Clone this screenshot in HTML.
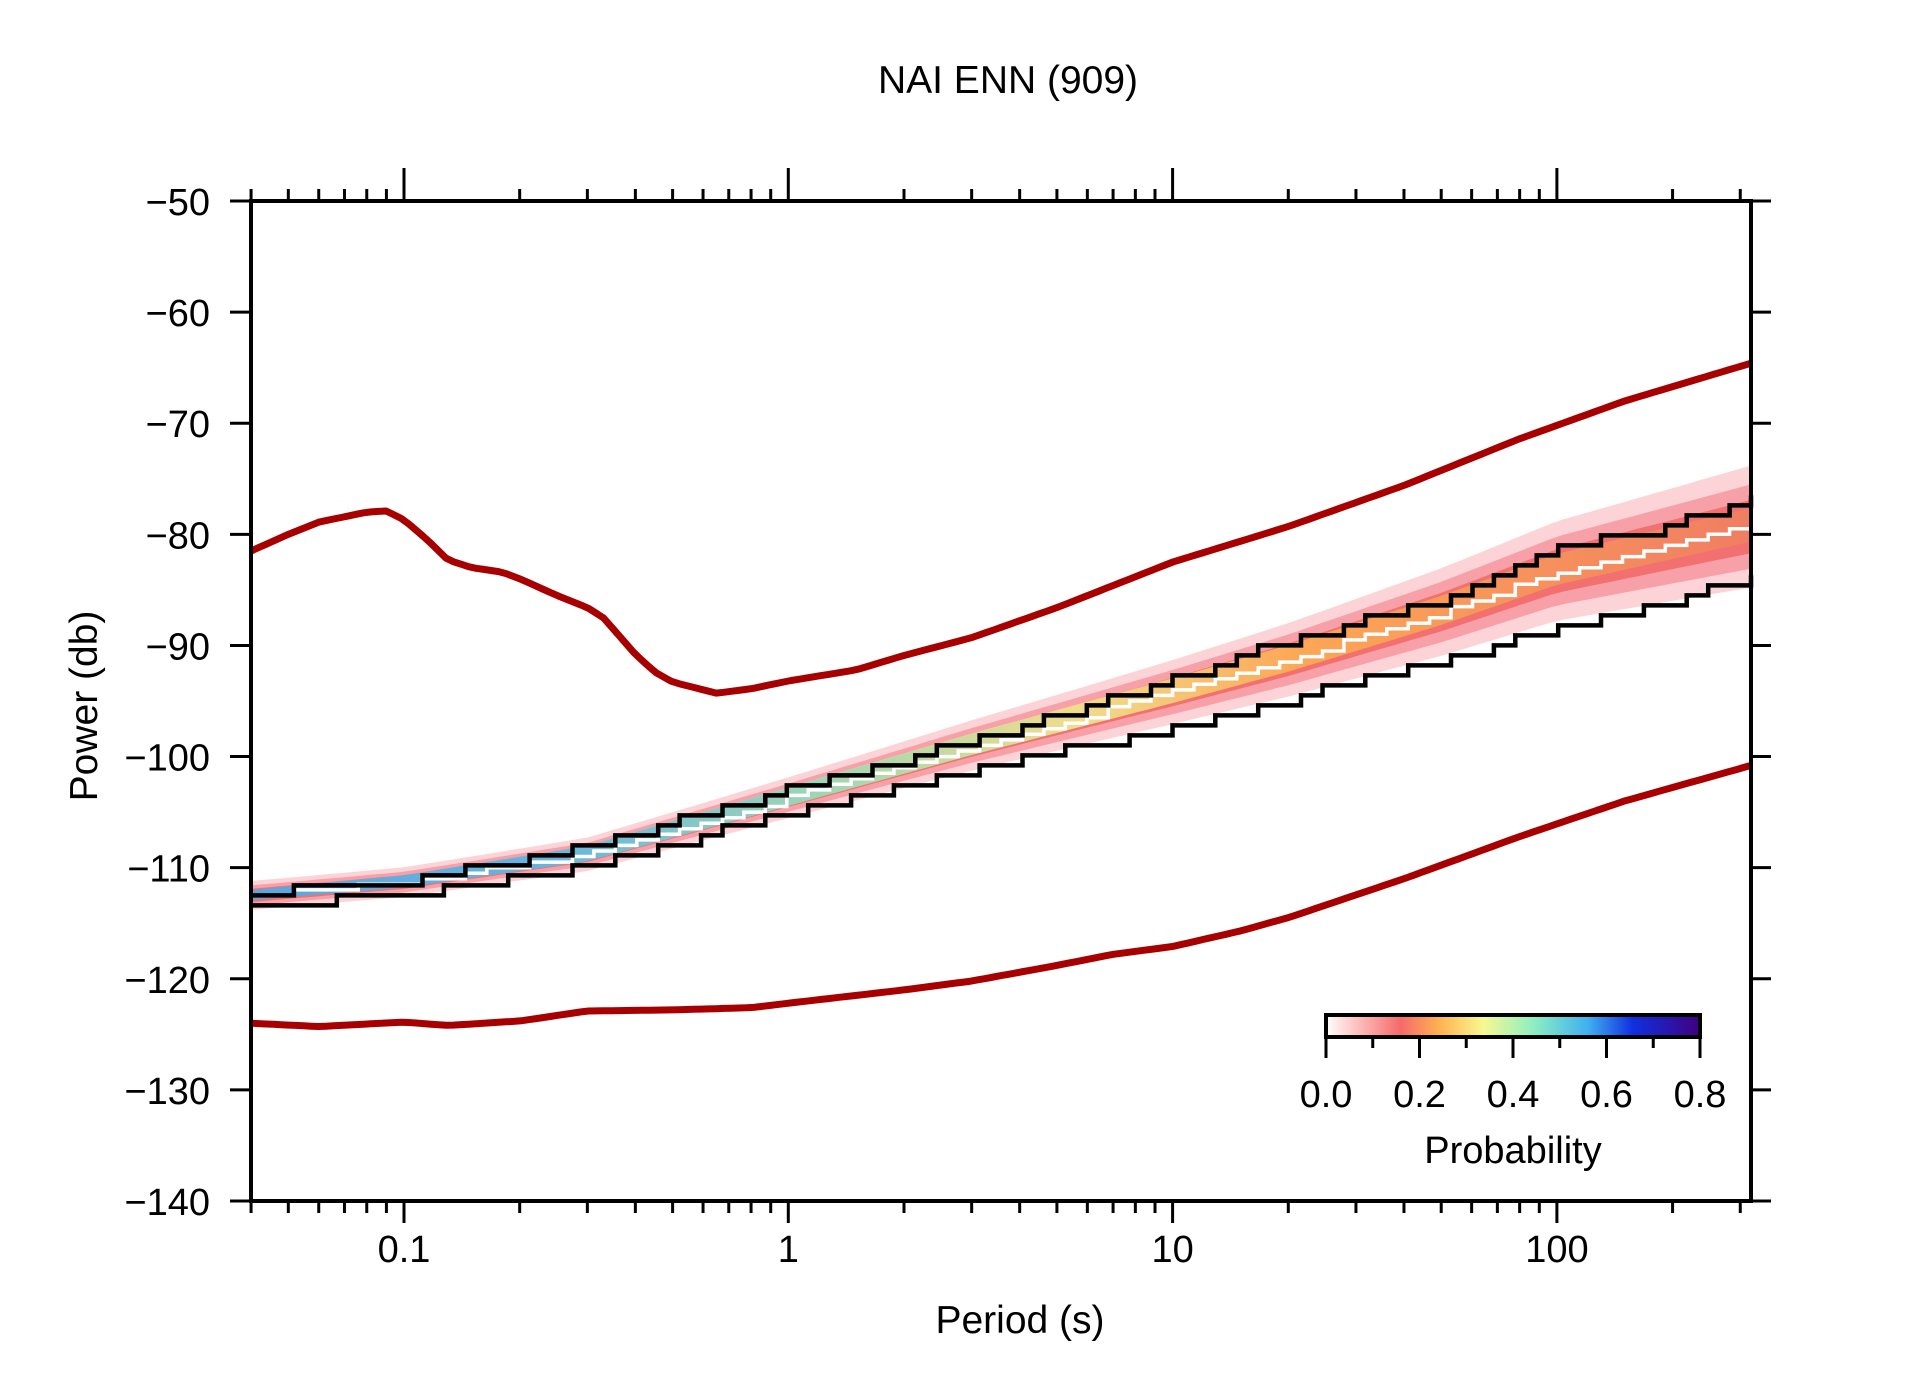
<!DOCTYPE html>
<html><head><meta charset="utf-8"><style>
html,body{margin:0;padding:0;background:#fff;overflow:hidden;}
svg{display:block;font-family:"Liberation Sans",sans-serif;}
</style></head><body>
<svg id="s" width="1910" height="1389" viewBox="0 0 1910 1389" xmlns="http://www.w3.org/2000/svg">
<defs>
<linearGradient id="cb" x1="0" x2="1" y1="0" y2="0">
<stop offset="0" stop-color="#ffffff"/><stop offset="0.05" stop-color="#ffd8d8"/>
<stop offset="0.2" stop-color="#f56a6a"/><stop offset="0.3" stop-color="#ffb050"/>
<stop offset="0.42" stop-color="#f8f890"/><stop offset="0.55" stop-color="#90f0c0"/>
<stop offset="0.7" stop-color="#40b0f0"/><stop offset="0.82" stop-color="#1030e0"/>
<stop offset="1" stop-color="#400080"/></linearGradient>
<linearGradient id="core" x1="251" x2="1751" y1="0" y2="0" gradientUnits="userSpaceOnUse">
<stop offset="0" stop-color="#40b0f0"/><stop offset="0.2" stop-color="#50c0f0"/>
<stop offset="0.38" stop-color="#90e8c0"/><stop offset="0.55" stop-color="#f0f090"/>
<stop offset="0.7" stop-color="#ffb050"/><stop offset="1" stop-color="#f08060"/></linearGradient>
</defs>
<g id="g"></g>
</svg>
<script>
const L=251,R=1751,T=201,B=1201;
function X(p){return 404+(Math.log10(p)+1)*384.3;}
function Y(d){return T+(-50-d)*11.111;}
const g=document.getElementById('g');let h='';
function interp(pts,p){const lp=Math.log10(p);for(let i=0;i<pts.length-1;i++){const a=Math.log10(pts[i][0]),b=Math.log10(pts[i+1][0]);if(lp<=b){const t=(lp-a)/(b-a);return pts[i][1]+t*(pts[i+1][1]-pts[i][1]);}}return pts[pts.length-1][1];}
function path(pts){return pts.map((q,i)=>(i?'L':'M')+X(q[0]).toFixed(1)+','+Y(q[1]).toFixed(1)).join('');}
const P0=0.04,P1=320;
function samp(pts,n){const o=[];for(let i=0;i<=n;i++){const p=Math.pow(10,Math.log10(P0)+i/n*(Math.log10(P1)-Math.log10(P0)));o.push([p,interp(pts,p)]);}return o;}
const mode=[[0.04,-112.5],[0.1,-111.3],[0.3,-108.8],[1,-103.7],[3,-99],[10,-94.2],[20,-91.3],[50,-87],[100,-83.3],[320,-79.3]];
function band(w0,w1,col){const top=[],bot=[];const s=samp(mode,120);s.forEach(q=>{const f=(Math.log10(q[0])-Math.log10(P0))/(Math.log10(P1)-Math.log10(P0));const w=w0+(w1-w0)*f*f;top.push([q[0],q[1]+w]);bot.push([q[0],q[1]-w]);});
h+='<path d="'+path(top)+path(bot.reverse()).replace('M','L')+'Z" fill="'+col+'"/>';}
band(1.3,5.5,'#fcd4d8');band(0.9,3.8,'#f8a0a8');band(0.6,2.4,'#f27070');
(function(){const top=[],bot=[];samp(mode,120).forEach(q=>{const f=(Math.log10(q[0])-Math.log10(P0))/(Math.log10(P1)-Math.log10(P0));const w=0.5+1.2*f;top.push([q[0],q[1]+w]);bot.push([q[0],q[1]-w*0.8]);});h+='<path d="'+path(top)+path(bot.reverse()).replace('M','L')+'Z" fill="url(#core)" opacity="0.85"/>';})();
function stair(pts,step){const o=[];const n=70;let prev=null;for(let i=0;i<=n;i++){const p=Math.pow(10,Math.log10(P0)+i/n*(Math.log10(P1)-Math.log10(P0)));let d=interp(pts,p);d=Math.round(d/step)*step;if(prev!==null&&d!==prev)o.push([p,prev]);o.push([p,d]);prev=d;}return o;}
const up=[[0.04,-112.3],[0.1,-111.2],[0.3,-108.2],[1,-102.8],[3,-98.6],[10,-93],[20,-89.5],[50,-85.7],[100,-81],[180,-79.5],[320,-76.8]];
const lo=[[0.04,-113.6],[0.1,-112.4],[0.3,-110],[1,-105],[3,-101],[10,-97.5],[20,-94.8],[50,-91.3],[100,-88.3],[180,-86.5],[320,-83.5]];
h+='<path d="'+path(stair(mode,0.5))+'" fill="none" stroke="#fff" stroke-width="3.5"/>';
h+='<path d="'+path(stair(up,0.9))+'" fill="none" stroke="#000" stroke-width="4.5"/>';
h+='<path d="'+path(stair(lo,0.9))+'" fill="none" stroke="#000" stroke-width="4.5"/>';
const nh=[[0.04,-81.5],[0.05,-80],[0.06,-78.9],[0.08,-78],[0.09,-77.9],[0.1,-78.7],[0.115,-80.5],[0.13,-82.3],[0.15,-83],[0.18,-83.4],[0.2,-84],[0.25,-85.5],[0.3,-86.6],[0.33,-87.5],[0.4,-90.8],[0.45,-92.4],[0.5,-93.3],[0.65,-94.3],[0.8,-93.9],[1,-93.2],[1.5,-92.2],[2,-90.9],[3,-89.3],[5,-86.6],[10,-82.5],[20,-79.3],[40,-75.6],[80,-71.4],[150,-68],[320,-64.6]];
const nl=[[0.04,-124],[0.06,-124.3],[0.1,-123.9],[0.13,-124.2],[0.2,-123.8],[0.3,-122.9],[0.5,-122.8],[0.8,-122.6],[1,-122.2],[2,-121],[3,-120.2],[5,-118.8],[7,-117.8],[10,-117.1],[15,-115.7],[20,-114.5],[40,-111],[80,-107.2],[150,-104],[320,-100.8]];
h+='<path d="'+path(samp(nh,200))+'" fill="none" stroke="#a80000" stroke-width="7" stroke-linejoin="round"/>';
h+='<path d="'+path(samp(nl,200))+'" fill="none" stroke="#a80000" stroke-width="7" stroke-linejoin="round"/>';
h+='<rect x="'+L+'" y="'+T+'" width="'+(R-L)+'" height="'+(B-T)+'" fill="none" stroke="#000" stroke-width="4"/>';
for(let d=-50;d>=-140;d-=10){const y=Y(d);h+='<line x1="230" x2="'+L+'" y1="'+y+'" y2="'+y+'" stroke="#000" stroke-width="3"/><line x1="'+R+'" x2="1771" y1="'+y+'" y2="'+y+'" stroke="#000" stroke-width="3"/>';
h+='<text x="210" y="'+(y+14)+'" font-size="38" text-anchor="end">\u2212'+(-d)+'</text>';}
for(let e=-2;e<=2;e++)for(let k=1;k<10;k++){const p=k*Math.pow(10,e);if(p<0.04||p>330)continue;const x=X(p);const maj=k==1;
h+='<line x1="'+x+'" x2="'+x+'" y1="'+T+'" y2="'+(maj?168:189)+'" stroke="#000" stroke-width="3"/>';
h+='<line x1="'+x+'" x2="'+x+'" y1="'+B+'" y2="'+(maj?1223:1213)+'" stroke="#000" stroke-width="3"/>';
if(maj)h+='<text x="'+x+'" y="1262" font-size="38" text-anchor="middle">'+(p<1?'0.1':p)+'</text>';}
h+='<text x="1008" y="93" font-size="39" text-anchor="middle">NAI ENN (909)</text>';
h+='<text x="1020" y="1333" font-size="39" text-anchor="middle">Period (s)</text>';
h+='<text transform="translate(97,706) rotate(-90)" font-size="39" text-anchor="middle">Power (db)</text>';
h+='<rect x="1326" y="1015" width="374" height="22" fill="url(#cb)" stroke="#000" stroke-width="4"/>';
for(let i=0;i<=8;i++){const x=1326+i*374/8;h+='<line x1="'+x+'" x2="'+x+'" y1="1037" y2="'+(i%2?1048:1058)+'" stroke="#000" stroke-width="3"/>';
if(i%2==0)h+='<text x="'+x+'" y="1107" font-size="38" text-anchor="middle">'+(i/10).toFixed(1)+'</text>';}
h+='<text x="1513" y="1163" font-size="38" text-anchor="middle">Probability</text>';
g.innerHTML=h;
</script>
</body></html>
